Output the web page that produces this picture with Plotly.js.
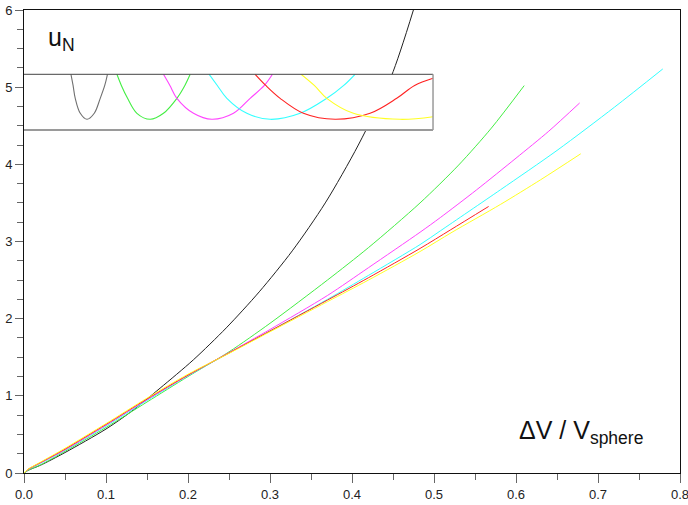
<!DOCTYPE html>
<html>
<head>
<meta charset="utf-8">
<script src="https://cdn.plot.ly/plotly-3.0.1.min.js"></script>
<style>html,body{margin:0;padding:0;background:#fff;}#chart{width:688px;height:505px;}</style>
</head>
<body>
<div id="chart"></div>
<script>
// ---- main curves: u_N vs dV/V_sphere ----
const xBlack = [0, 0.005, 0.02, 0.05, 0.1, 0.13, 0.166, 0.2065, 0.2467, 0.2869, 0.3272, 0.3674, 0.4077, 0.4479, 0.4749];
const yBlack = [0, 0.035, 0.10, 0.265, 0.57, 0.79, 1.10, 1.466, 1.881, 2.348, 2.879, 3.50, 4.25, 5.14, 6.0];

const xGreen = [0, 0.005, 0.02, 0.05, 0.1, 0.15, 0.2, 0.25, 0.3, 0.37, 0.42, 0.483, 0.53, 0.57, 0.61];
const yGreen = [0, 0.035, 0.105, 0.28, 0.59, 0.92, 1.25, 1.57, 1.94, 2.50, 2.92, 3.50, 3.99, 4.47, 5.02];

const xCyan = [0, 0.005, 0.02, 0.05, 0.1, 0.15, 0.2, 0.25, 0.3, 0.37, 0.42, 0.483, 0.508, 0.581, 0.65, 0.72, 0.779];
const yCyan = [0, 0.045, 0.125, 0.295, 0.61, 0.94, 1.26, 1.555, 1.84, 2.25, 2.56, 2.96, 3.14, 3.67, 4.18, 4.74, 5.236];

const xMagenta = [0, 0.005, 0.02, 0.05, 0.1, 0.15, 0.2, 0.25, 0.3, 0.37, 0.42, 0.483, 0.5077, 0.552, 0.6, 0.64, 0.6776];
const yMagenta = [0, 0.045, 0.13, 0.30, 0.62, 0.95, 1.265, 1.56, 1.86, 2.30, 2.66, 3.12, 3.31, 3.67, 4.08, 4.43, 4.795];

const xRed = [0, 0.005, 0.02, 0.05, 0.1, 0.15, 0.2, 0.25, 0.3, 0.37, 0.42, 0.483, 0.52, 0.5666];
const yRed = [0, 0.048, 0.135, 0.31, 0.63, 0.96, 1.27, 1.555, 1.84, 2.24, 2.53, 2.91, 3.15, 3.454];

const xYellow = [0, 0.005, 0.02, 0.05, 0.1, 0.15, 0.2, 0.25, 0.3, 0.37, 0.42, 0.483, 0.522, 0.581, 0.63, 0.679];
const yYellow = [0, 0.05, 0.14, 0.32, 0.64, 0.97, 1.28, 1.55, 1.83, 2.22, 2.50, 2.87, 3.12, 3.48, 3.80, 4.137];

// ---- inset curves (normalised inset coordinates) ----
const uGray = [0.1148, 0.120, 0.1253, 0.1376, 0.154, 0.1718, 0.1864, 0.1974, 0.204];
const vGray = [1.0, 0.8, 0.569, 0.30, 0.192, 0.30, 0.569, 0.8, 1.0];
const uGreenIn = [0.2272, 0.238, 0.2532, 0.276, 0.3086, 0.341, 0.3738, 0.3933, 0.4063];
const vGreenIn = [1.0, 0.8, 0.569, 0.30, 0.192, 0.30, 0.569, 0.8, 1.0];
const uMagentaIn = [0.341, 0.3567, 0.3738, 0.4144, 0.4593, 0.5121, 0.5529, 0.5877, 0.6074];
const vMagentaIn = [1.0, 0.8, 0.569, 0.30, 0.192, 0.30, 0.569, 0.8, 1.0];
const uCyanIn = [0.4527, 0.4726, 0.496, 0.5448, 0.6018, 0.6751, 0.7403, 0.7818, 0.8094];
const vCyanIn = [1.0, 0.8, 0.569, 0.30, 0.192, 0.30, 0.569, 0.8, 1.0];
const uRedIn = [0.5651, 0.5911, 0.6262, 0.6831, 0.7606, 0.8461, 0.9113, 0.955, 1.0];
const vRedIn = [1.0, 0.8, 0.569, 0.30, 0.192, 0.30, 0.569, 0.8, 0.928];
const uYellowIn = [0.6775, 0.7097, 0.7403, 0.8053, 0.9194, 1.0];
const vYellowIn = [1.0, 0.8, 0.569, 0.30, 0.192, 0.239];

// ---- axis ticks ----
const xTickVals = [0, 0.1, 0.2, 0.3, 0.4, 0.5, 0.6, 0.7, 0.8];
const xTickText = ['0.0', '0.1', '0.2', '0.3', '0.4', '0.5', '0.6', '0.7', '0.8'];
const yTickVals = [0, 1, 2, 3, 4, 5, 6];
const yTickText = ['0', '1', '2', '3', '4', '5', '6'];

const COLORS = {black: '#222222', green: '#44ee44', cyan: '#33ffff', magenta: '#ff44ff', red: '#ff2222', yellow: '#ffff22', gray: '#707070'};

function mainLine(x, y, c) {
  return {x: x, y: y, type: 'scatter', mode: 'lines', xaxis: 'x', yaxis: 'y',
          line: {color: c, width: 1, shape: 'spline', smoothing: 0.8}, hoverinfo: 'skip'};
}
function insetLine(u, v, c) {
  return {x: u, y: v, type: 'scatter', mode: 'lines', xaxis: 'x2', yaxis: 'y2',
          line: {color: c, width: 1.1, shape: 'spline', smoothing: 1}, hoverinfo: 'skip'};
}

const traces = [
  mainLine(xBlack, yBlack, COLORS.black),
  mainLine(xGreen, yGreen, COLORS.green),
  mainLine(xCyan, yCyan, COLORS.cyan),
  mainLine(xMagenta, yMagenta, COLORS.magenta),
  mainLine(xRed, yRed, COLORS.red),
  mainLine(xYellow, yYellow, COLORS.yellow),
  insetLine(uGray, vGray, COLORS.gray),
  insetLine(uGreenIn, vGreenIn, COLORS.green),
  insetLine(uMagentaIn, vMagentaIn, COLORS.magenta),
  insetLine(uCyanIn, vCyanIn, COLORS.cyan),
  insetLine(uRedIn, vRedIn, COLORS.red),
  insetLine(uYellowIn, vYellowIn, COLORS.yellow)
];

const FONT = 'Liberation Sans, Arial, Helvetica, sans-serif';
const insetX = [0, 0.6235];
const insetY = [0.7408, 0.8611];

const layout = {
  width: 688, height: 505,
  margin: {l: 24, r: 8, t: 10, b: 32, pad: 0},
  paper_bgcolor: '#ffffff', plot_bgcolor: '#ffffff',
  showlegend: false,
  font: {family: FONT, size: 13, color: '#111'},
  xaxis: {
    range: [0, 0.8], domain: [0, 1], anchor: 'y',
    showgrid: false, zeroline: false,
    showline: true, linecolor: '#111', linewidth: 1, mirror: true,
    ticks: 'outside', ticklen: 9, tickcolor: '#666', tickwidth: 1,
    tickvals: xTickVals, ticktext: xTickText, ticklabeloverflow: 'allow',
    tickfont: {family: FONT, size: 13, color: '#222'},
    minor: {dtick: 0.05, ticks: 'outside', ticklen: 6, tickcolor: '#666', tickwidth: 1, showgrid: false}
  },
  yaxis: {
    range: [0, 6], domain: [0, 1], anchor: 'x',
    showgrid: false, zeroline: false,
    showline: true, linecolor: '#111', linewidth: 1, mirror: true,
    ticks: 'outside', ticklen: 8, tickcolor: '#666', tickwidth: 1,
    tickvals: yTickVals, ticktext: yTickText, ticklabeloverflow: 'allow',
    tickfont: {family: FONT, size: 13, color: '#222'},
    minor: {dtick: 0.25, ticks: 'outside', ticklen: 6, tickcolor: '#666', tickwidth: 1, showgrid: false}
  },
  xaxis2: {domain: insetX, range: [0, 1], anchor: 'y2', visible: false, fixedrange: true},
  yaxis2: {domain: insetY, range: [0, 1], anchor: 'x2', visible: false, fixedrange: true},
  shapes: [
    {type: 'line', xref: 'paper', yref: 'paper', x0: insetX[0], x1: insetX[1], y0: insetY[1], y1: insetY[1], line: {color: '#444', width: 1}},
    {type: 'line', xref: 'paper', yref: 'paper', x0: insetX[0], x1: insetX[1], y0: insetY[0], y1: insetY[0], line: {color: '#9a9a9a', width: 2}},
    {type: 'line', xref: 'paper', yref: 'paper', x0: insetX[1], x1: insetX[1], y0: insetY[0], y1: insetY[1], line: {color: '#9a9a9a', width: 1.5}}
  ],
  annotations: [
    {xref: 'paper', yref: 'paper', x: 0.033, y: 0.976, xanchor: 'left', yanchor: 'top', showarrow: false,
     text: 'u<sub>N</sub>', font: {family: FONT, size: 25, color: '#111'}},
    {xref: 'paper', yref: 'paper', x: 0.752, y: 0.127, xanchor: 'left', yanchor: 'top', showarrow: false,
     text: '\u0394V / V<sub>sphere</sub>', font: {family: FONT, size: 25, color: '#111'}}
  ]
};

Plotly.newPlot('chart', traces, layout, {staticPlot: true, displayModeBar: false});
</script>
</body>
</html>
